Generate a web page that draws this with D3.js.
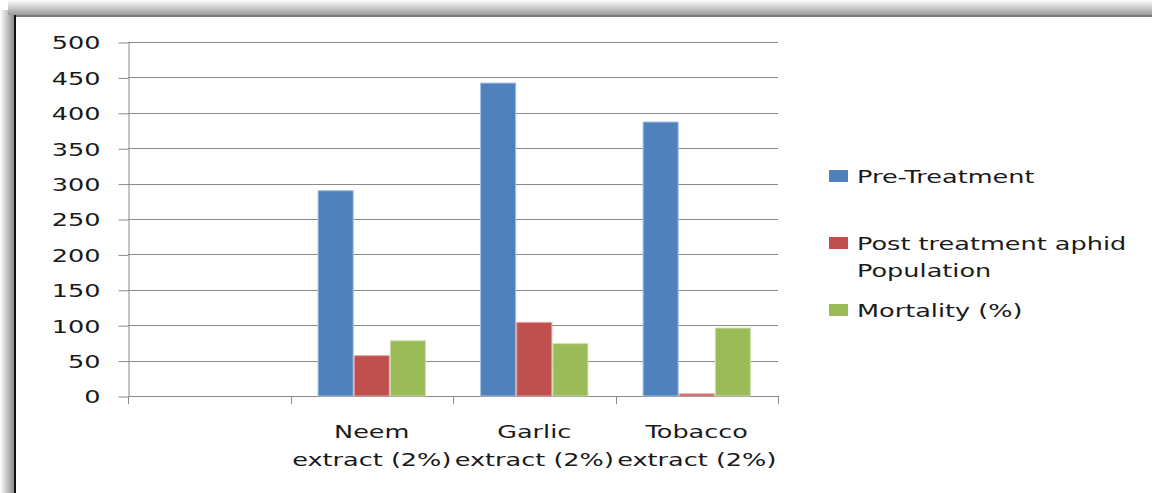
<!DOCTYPE html>
<html lang="en">
<head>
    <meta charset="UTF-8">
    <title>Aphid population</title>
    <script src="https://d3js.org/d3.v7.min.js"></script>
    <style>
        body {
            margin: 0;
            background: #fff;
        }
        svg {
            display: block;
        }
        .lbl {
            font-family: "DejaVu Sans", sans-serif;
            font-size: 18px;
            fill: #1a1a1a;
        }
    </style>
</head>
<body>
    <svg width="1152" height="493"></svg>
    <script>
        // Chart data
        const categories = ["", "Neem extract (2%)", "Garlic extract (2%)", "Tobacco extract (2%)"];
        const seriesNames = ["Pre-Treatment", "Post treatment aphid Population", "Mortality (%)"];
        const legendLines = [["Pre-Treatment"], ["Post treatment aphid", "Population"], ["Mortality (%)"]];
        const preTreatment = [null, 290, 442, 387];
        const postTreatment = [null, 57, 104, 3];
        const mortality = [null, 78, 74, 96];
        const yTicks = [0, 50, 100, 150, 200, 250, 300, 350, 400, 450, 500];

        const colors = ["#4f81bd", "#c0504d", "#9bbb59"];
        const edges = ["#a7c0e0", "#e0a8a6", "#cde0ae"];
        const sx = 1.42; // the source text is stretched sideways

        const svg = d3.select("svg");

        // Frame with soft shadow on top and left
        const defs = svg.append("defs");
        const gl = defs.append("linearGradient").attr("id", "shadowL")
            .attr("x1", 0).attr("x2", 1).attr("y1", 0).attr("y2", 0);
        gl.append("stop").attr("offset", 0).attr("stop-color", "#fff");
        gl.append("stop").attr("offset", 1).attr("stop-color", "#8c8c8c");
        const gt = defs.append("linearGradient").attr("id", "shadowT")
            .attr("x1", 0).attr("x2", 0).attr("y1", 0).attr("y2", 1);
        gt.append("stop").attr("offset", 0).attr("stop-color", "#fff");
        gt.append("stop").attr("offset", 1).attr("stop-color", "#9a9a9a");

        svg.append("rect").attr("x", 0).attr("y", 10).attr("width", 14).attr("height", 483)
            .attr("fill", "url(#shadowL)");
        svg.append("rect").attr("x", 8).attr("y", 0).attr("width", 1144).attr("height", 15)
            .attr("fill", "url(#shadowT)");
        svg.append("rect").attr("x", 15).attr("y", 16).attr("width", 1160).attr("height", 500)
            .attr("fill", "#fff");
        svg.append("line").attr("x1", 14).attr("x2", 1152).attr("y1", 16).attr("y2", 16)
            .attr("stroke", "#7a7a7a").attr("stroke-width", 2);
        svg.append("line").attr("x1", 15).attr("x2", 15).attr("y1", 15).attr("y2", 493)
            .attr("stroke", "#111").attr("stroke-width", 2);

        // Scales
        const x0 = d3.scaleBand().domain(categories).range([128, 778]).padding(0);
        const x1 = d3.scaleBand().domain(seriesNames).range([0, x0.bandwidth()])
            .paddingInner(0).paddingOuter(0.75);
        const y = d3.scaleLinear().domain([0, 500]).range([396, 42]);

        // Gridlines
        svg.append("g").selectAll("line").data(yTicks).join("line")
            .attr("x1", 128).attr("x2", 778)
            .attr("y1", d => Math.round(y(d)) + 0.5).attr("y2", d => Math.round(y(d)) + 0.5)
            .attr("stroke", "#8a8a8a").attr("stroke-width", 1);

        // Y axis
        const yAxis = svg.append("g")
            .attr("transform", "translate(128.5,0.5)")
            .call(d3.axisLeft(y).tickValues(yTicks).tickSizeInner(10).tickSizeOuter(0));
        yAxis.select(".domain").attr("stroke", "#8a8a8a");
        yAxis.selectAll(".tick line").attr("stroke", "#8a8a8a");
        yAxis.selectAll(".tick text")
            .attr("class", "lbl")
            .attr("x", -28 / sx)
            .attr("dy", "0.35em")
            .attr("transform", `scale(${sx},1)`)
            .style("font-family", null).style("font-size", null);
        yAxis.attr("font-family", null).attr("font-size", null);

        // X axis ticks at category boundaries
        const bounds = categories.map(c => x0(c)).concat([x0.range()[1]]);
        svg.append("g").selectAll("line").data(bounds).join("line")
            .attr("x1", d => Math.round(d) + 0.5).attr("x2", d => Math.round(d) + 0.5)
            .attr("y1", 396).attr("y2", 404)
            .attr("stroke", "#8a8a8a");

        // Bars
        const seriesValues = [preTreatment, postTreatment, mortality];
        const rows = [];
        categories.forEach((c, i) => {
            seriesNames.forEach((s, j) => {
                if (seriesValues[j][i] != null) rows.push({ c, s, j, v: seriesValues[j][i] });
            });
        });
        svg.append("g").selectAll("rect").data(rows).join("rect")
            .attr("x", d => x0(d.c) + x1(d.s) + 0.5)
            .attr("y", d => y(d.v))
            .attr("width", x1.bandwidth() - 1)
            .attr("height", d => y(0) - y(d.v))
            .attr("fill", d => colors[d.j])
            .attr("stroke", d => edges[d.j])
            .attr("stroke-width", 1);

        // Category labels
        categories.forEach(c => {
            if (!c) return;
            const k = c.indexOf(" ");
            const lines = [c.slice(0, k), c.slice(k + 1)];
            const cx = x0(c) + x0.bandwidth() / 2;
            lines.forEach((t, i) => {
                svg.append("text").attr("class", "lbl")
                    .attr("text-anchor", "middle")
                    .attr("transform", `translate(${cx},${438 + i * 28}) scale(${sx},1)`)
                    .text(t);
            });
        });

        // Legend
        const legendY = [176, 243, 310];
        legendLines.forEach((lines, j) => {
            svg.append("rect")
                .attr("x", 829).attr("y", legendY[j] - 6)
                .attr("width", 19).attr("height", 12)
                .attr("fill", colors[j]);
            lines.forEach((t, i) => {
                svg.append("text").attr("class", "lbl")
                    .attr("transform", `translate(857,${legendY[j] + 7 + i * 27}) scale(${sx},1)`)
                    .text(t);
            });
        });
    </script>
</body>
</html>
